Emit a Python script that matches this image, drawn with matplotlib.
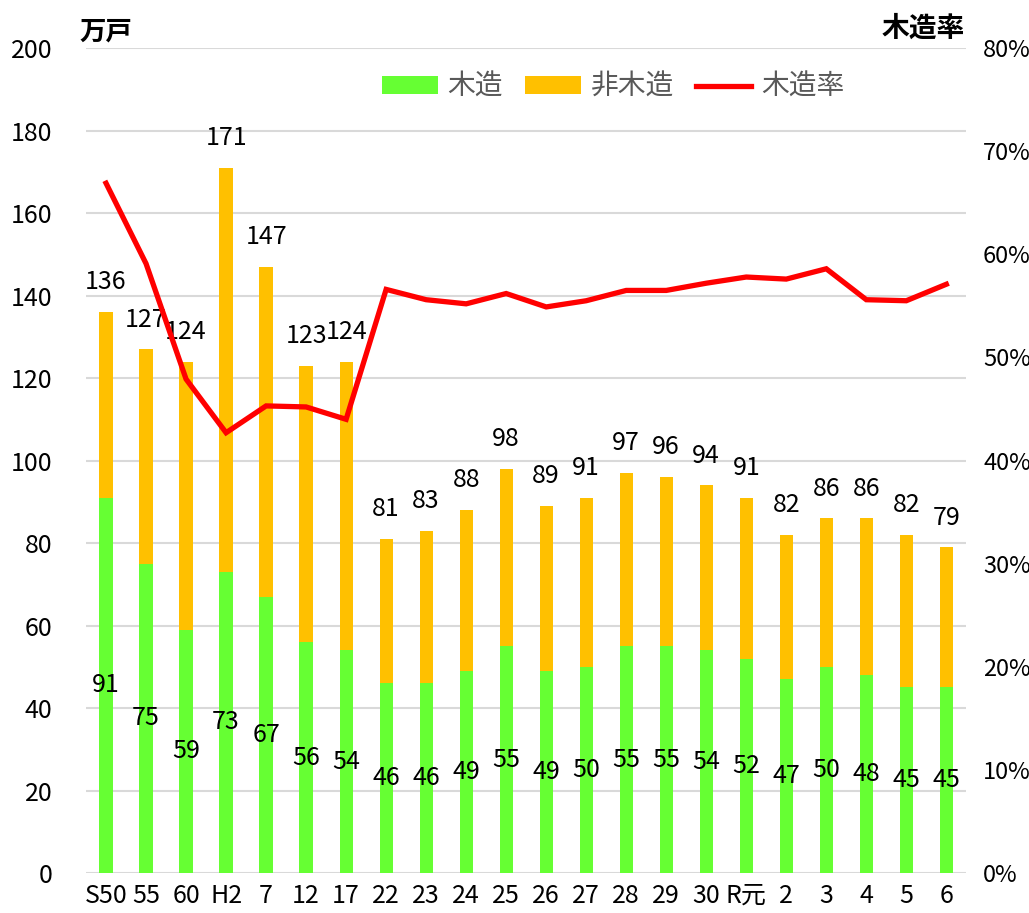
import matplotlib
matplotlib.use("Agg")
import matplotlib.pyplot as plt
import numpy as np

plt.rcParams['font.family'] = ['Noto Sans CJK JP', 'DejaVu Sans']

# 新設住宅着工戸数（万戸）と木造率の推移
years = ['S50', '55', '60', 'H2', '7', '12', '17', '22', '23', '24', '25',
         '26', '27', '28', '29', '30', 'R元', '2', '3', '4', '5', '6']
wood = [91, 75, 59, 73, 67, 56, 54, 46, 46, 49, 55,
        49, 50, 55, 55, 54, 52, 47, 50, 48, 45, 45]
total = [136, 127, 124, 171, 147, 123, 124, 81, 83, 88, 98,
         89, 91, 97, 96, 94, 91, 82, 86, 86, 82, 79]
wood_rate = [66.9, 59.1, 47.9, 42.7, 45.3, 45.2, 44.0, 56.6, 55.6, 55.2, 56.2,
             54.9, 55.5, 56.5, 56.5, 57.2, 57.8, 57.6, 58.6, 55.6, 55.5, 57.1]

non_wood = [t - w for t, w in zip(total, wood)]

GREEN = '#66FF33'
ORANGE = '#FFC000'
RED = '#FF0000'
GRID = '#D9D9D9'

fig = plt.figure(figsize=(10.29, 9.13), dpi=100)
ax = fig.add_axes([0.0836, 0.0438, 0.8555, 0.9035])
ax2 = ax.twinx()

x = np.arange(len(years))
bw = 0.33
b1 = ax.bar(x, wood, bw, color=GREEN, label='木造', zorder=2)
b2 = ax.bar(x, non_wood, bw, bottom=wood, color=ORANGE, label='非木造', zorder=2)
ln, = ax2.plot(x, wood_rate, color=RED, lw=3.8, label='木造率',
               solid_joinstyle='miter', zorder=3)

ax.set_xlim(-0.5, len(years) - 0.5)
ax.set_ylim(0, 200)
ax.set_yticks(range(0, 201, 20))
ax2.set_ylim(0, 80)
ax2.set_yticks(range(0, 81, 10))
ax2.set_yticklabels([f'{v}%' for v in range(0, 81, 10)])

ax.set_xticks(x)
ax.set_xticklabels(years)
ax.grid(axis='y', color=GRID, lw=1.5, zorder=0)
ax.set_axisbelow(True)
for a in (ax, ax2):
    for s in a.spines.values():
        s.set_visible(False)
    a.tick_params(length=0, labelsize=18, colors='black')
ax.tick_params(axis='y', pad=24)
ax.tick_params(axis='x', pad=7)
ax2.tick_params(axis='y', pad=12, labelsize=17)
ax.set_zorder(ax2.get_zorder() - 1)
ax.patch.set_visible(False)

for xi, w, t in zip(x, wood, total):
    ax.text(xi, w / 2, str(w), ha='center', va='center', fontsize=18, zorder=4)
    ax.annotate(str(t), (xi, t), xytext=(0, 12), textcoords='offset points',
                ha='center', va='bottom', fontsize=18)

fig.text(0.077, 0.965, '万戸', fontsize=19, fontweight='bold',
         ha='left', va='center')
fig.text(0.938, 0.968, '木造率', fontsize=20, fontweight='bold',
         ha='right', va='center')

leg = ax.legend(handles=[b1, b2, ln], loc='center', ncol=3,
                bbox_to_anchor=(0.599, 0.953), frameon=False,
                handlelength=2.0, handleheight=0.6, handletextpad=0.35,
                columnspacing=0.8, prop={'size': 20})
for t in leg.get_texts():
    t.set_color('#595959')

fig.savefig('out.png', dpi=100)
